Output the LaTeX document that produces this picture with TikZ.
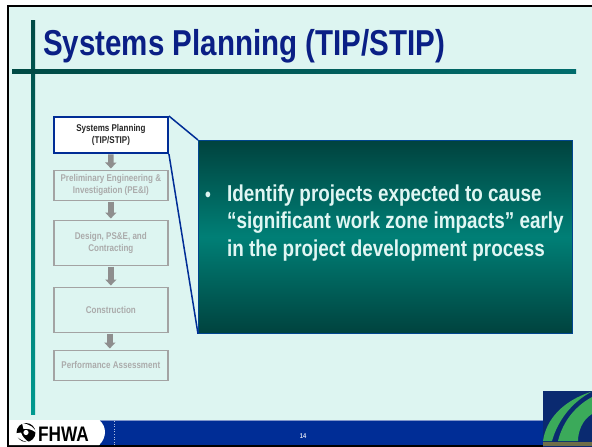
\documentclass[tikz,border=0pt]{standalone}
\usepackage{fontspec}
\setmainfont{Liberation Sans}[BoldFeatures={FakeStretch=0.82}]
\usetikzlibrary{arrows.meta}
\definecolor{bgc}{HTML}{DDF5F1}
\definecolor{blu}{HTML}{002D96}
\definecolor{ttl}{HTML}{0A1F85}
\definecolor{gry}{HTML}{A3A3A3}
\definecolor{gryd}{HTML}{8E8E8E}
\definecolor{gtx}{HTML}{ABABAB}
\definecolor{tealA}{HTML}{004A45}
\definecolor{tealB}{HTML}{009A90}
\definecolor{grn}{HTML}{3BAA5A}
\definecolor{navy}{HTML}{0A2A70}
\definecolor{strip}{HTML}{6E6E48}
\definecolor{midt}{HTML}{007F76}
\tikzset{
  x=1pt,y=-1pt,
  flow/.style={draw=gry,line width=1.7pt,minimum width=114pt,inner sep=0pt,align=center,
     font=\fontsize{9.8}{12}\selectfont\bfseries,text=gtx,anchor=north west},
  flowon/.style={flow,draw=blu,line width=1.9pt,fill=white,text=black!85},
  flowarrow/.style={draw=gryd,line width=5.5pt,-{Triangle[length=6pt,width=11pt]},shorten <=0.5pt,shorten >=1pt},
  leader/.style={draw=blu,line width=1.5pt},
  callouttext/.style={font=\fontsize{23}{27.5}\selectfont\bfseries,text=bgc!90!white,align=left,anchor=north west,inner sep=0pt}
}
\begin{document}
\begin{tikzpicture}
\useasboundingbox (0,0) rectangle (592,447);
\fill[white] (0,0) rectangle (592,447);
\fill[bgc] (8,6) rectangle (592,446);
\draw[black,line width=2pt] (592,6) -- (7.5,6) -- (7.5,446) -- (592,446);
% rules
\shade[top color=tealA,bottom color=tealB] (31,20) rectangle (35,414);
\shade[left color=tealA,right color=teal!85!black] (12,69) rectangle (576,73);
\fill[tealA] (31,69) rectangle (35,73);
% title
\node[anchor=base west,inner sep=0pt,text=ttl,font=\fontsize{36}{36}\selectfont\bfseries] (title) at (43,55.5) {Systems Planning (TIP/STIP)};
% callout
\node[anchor=north west,minimum width=374pt,minimum height=193pt,inner sep=0pt,draw=blu!70!teal,line width=.8pt,
  top color=tealA!90!black,bottom color=tealA!90!black,middle color=midt] (callout) at (198,140) {};
\node[anchor=base west,inner sep=0pt,font=\fontsize{20}{20}\selectfont\bfseries,text=bgc] (bul) at (205,201) {•};
\node[callouttext] (ctext) at (227,184.5) {Identify projects expected to cause\\“significant work zone impacts” early\\in the project development process};
% flow
\node[flowon,minimum height=36pt] (b1) at (53,116) {Systems Planning\\(TIP/STIP)};
\node[flow,minimum height=30pt] (b2) at (53,169.5) {Preliminary Engineering \&\\Investigation (PE\&I)};
\node[flow,minimum height=45pt] (b3) at (53,219.5) {Design, PS\&E, and\\Contracting};
\node[flow,minimum height=45pt] (b4) at (53,286.5) {Construction};
\node[flow,minimum height=30pt] (b5) at (53,349.5) {Performance Assessment};
\draw[flowarrow] (b1) -- (b2);
\draw[flowarrow] (b2) -- (b3);
\draw[flowarrow] (b3) -- (b4);
\draw[flowarrow] ([xshift=-1pt]b4.south) -- ([xshift=-1pt]b5.north);
\draw[leader] (b1.north east) -- (callout.north west);
\draw[leader] (b1.south east) -- (callout.south west);
% footer
\fill[blu] (100,420) rectangle (592,445);
\fill[blu!50!white] (100,420) rectangle (592,420.8);
\fill[white] (9,420) -- (99,420) .. controls (107,426) and (107,438) .. (99,445) -- (9,445) -- cycle;
\draw[white!70!blu,line width=.6pt,dotted] (114,421) -- (114,445);
\node[inner sep=0pt,text=white!85!blu,font=\fontsize{7}{7}\selectfont\bfseries] (pg) at (303,436) {14};
% FHWA logo
\node[anchor=base west,inner sep=0pt,text=black,font=\fontsize{21}{21}\selectfont\bfseries] (fhwa) at (38,441.5) {FHWA};
\fill[black] (26,432.5) circle (9.5pt);
\fill[white] (26,432.5) circle (2.6pt);
\fill[white] (22,423) .. controls (30,424.5) and (34,427) .. (36.5,433) .. controls (32,429) and (27,428.5) .. (23.5,429) -- cycle;
\fill[white] (15,433.5) .. controls (17,438) and (22,441) .. (29,442.5) .. controls (24,438.5) and (22.5,436.5) .. (21,432.5) -- cycle;
% road logo
\fill[navy] (543,391) rectangle (592,447);
\fill[grn] (543,441) .. controls (546,420) and (562,401) .. (592,391.5) .. controls (572,402) and (558,420) .. (552,441) -- cycle;
\fill[grn] (558,441) .. controls (562,425) and (572,408) .. (592,397) -- (592,414) .. controls (582,420) and (578,432) .. (578,441) -- cycle;
\fill[navy] (592,416) .. controls (583,422) and (582,436) .. (592,438) -- cycle;
\fill[strip] (543,441.5) rectangle (592,446);
\end{tikzpicture}
\end{document}
